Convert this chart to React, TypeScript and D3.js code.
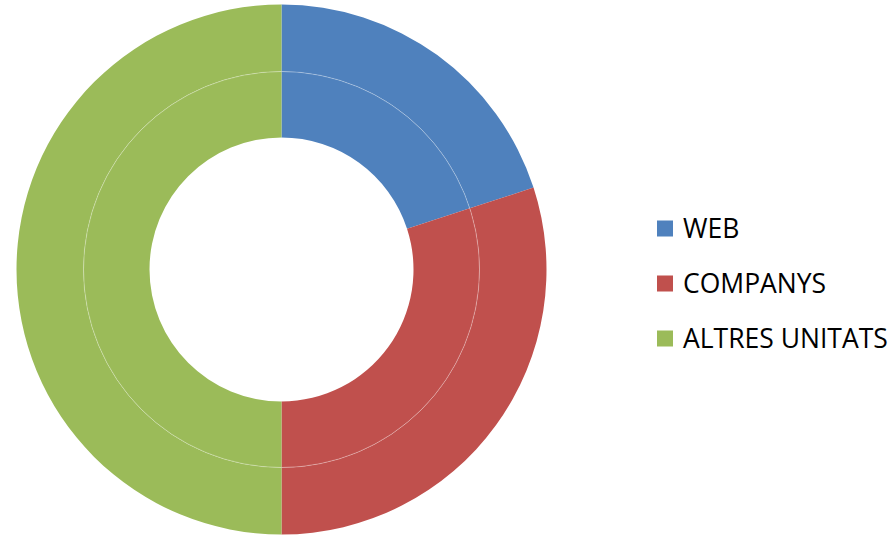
import React from "react";
import * as d3 from "d3";

const categories = ["WEB", "COMPANYS", "ALTRES UNITATS"];
const innerValues = [20, 30, 50];
const outerValues = [20, 30, 50];
const colors = ["#4F81BD", "#C0504D", "#9BBB59"];

const W = 896;
const H = 535;
const cx = 281.5;
const cy = 269.5;
const rHole = 132;
const rMid = 198;
const rOuter = 265;

export default function App() {
  const pie = d3.pie<number>().sort(null).value((d) => d);
  const innerArcs = pie(innerValues);
  const outerArcs = pie(outerValues);
  const arcInner = d3.arc<d3.PieArcDatum<number>>().innerRadius(rHole).outerRadius(rMid);
  const arcOuter = d3.arc<d3.PieArcDatum<number>>().innerRadius(rMid).outerRadius(rOuter);
  const legendY = d3.scalePoint<string>().domain(categories).range([228.5, 338.5]);

  return (
    <svg
      width={W}
      height={H}
      style={{ position: "absolute", left: 0, top: 0, display: "block", background: "#fff" }}
    >
      <g transform={`translate(${cx},${cy})`}>
        {innerArcs.map((a, i) => (
          <path key={"i" + i} d={arcInner(a) || ""} fill={colors[i]} />
        ))}
        {outerArcs.map((a, i) => (
          <path key={"o" + i} d={arcOuter(a) || ""} fill={colors[i]} />
        ))}
        <circle r={rMid} fill="none" stroke="#fff" strokeOpacity={0.4} strokeWidth={0.8} />
      </g>
      <g fontFamily="'Open Sans', 'Liberation Sans', sans-serif" fontSize={26.5} fill="#000">
        {categories.map((c, i) => (
          <g key={c} transform={`translate(657,${legendY(c)})`}>
            <rect x={0} y={-8} width={16} height={16} fill={colors[i]} />
            <text x={26} y={0} dy="0.36em">
              {c}
            </text>
          </g>
        ))}
      </g>
    </svg>
  );
}
